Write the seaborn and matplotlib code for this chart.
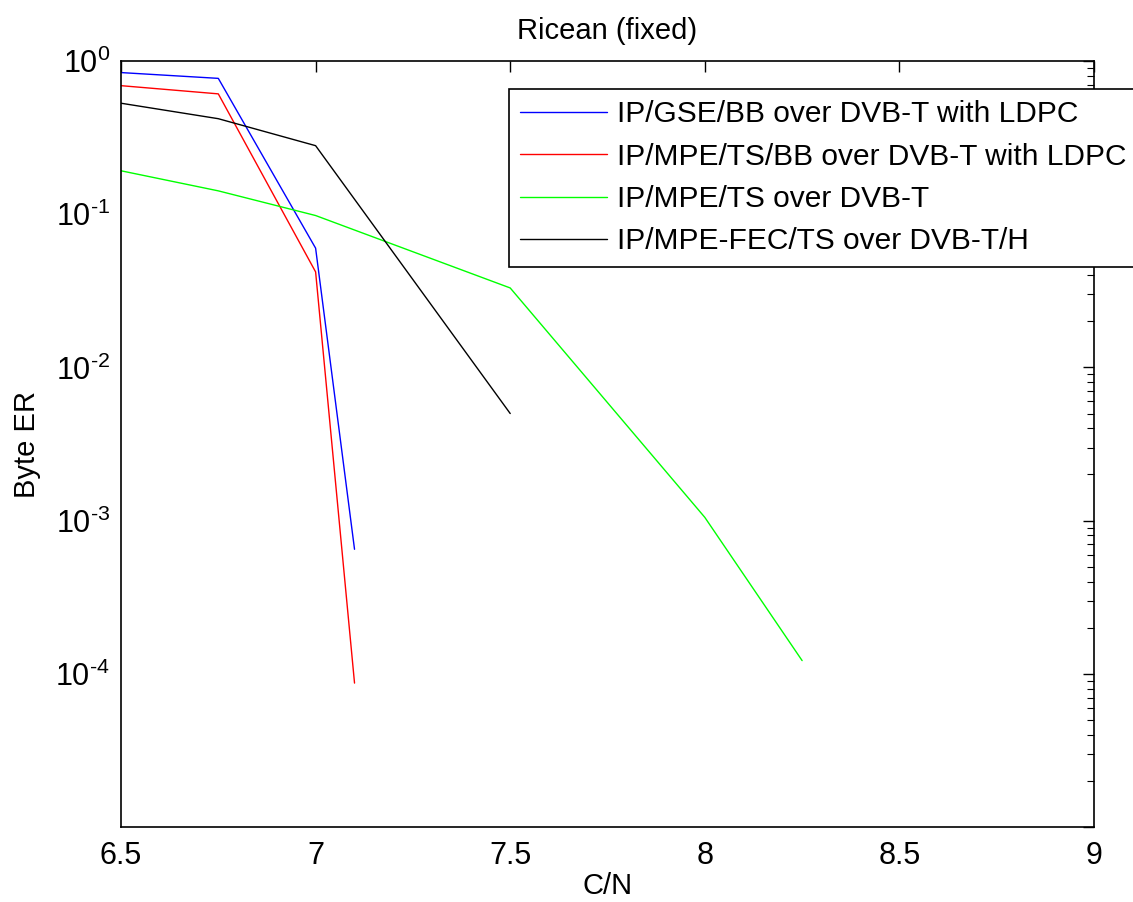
import numpy as np
import pandas as pd
import seaborn as sns
import matplotlib.pyplot as plt
from matplotlib.ticker import LogLocator, FuncFormatter, NullLocator, FixedLocator

# C/N points and byte error rates
cn_gse = [6.5, 6.75, 7.0, 7.1]
ber_gse = [0.84, 0.77, 0.06, 6.5e-4]

cn_mpe_bb = [6.5, 6.75, 7.0, 7.1]
ber_mpe_bb = [0.69, 0.61, 0.042, 8.7e-5]

cn_mpe = [6.5, 6.75, 7.0, 7.5, 8.0, 8.25]
ber_mpe = [0.192, 0.142, 0.098, 0.033, 1.05e-3, 1.22e-4]

cn_fec = [6.5, 6.75, 7.0, 7.5]
ber_fec = [0.53, 0.42, 0.28, 0.005]

labels = ['IP/GSE/BB over DVB-T with LDPC',
          'IP/MPE/TS/BB over DVB-T with LDPC',
          'IP/MPE/TS over DVB-T',
          'IP/MPE-FEC/TS over DVB-T/H']
colors = ['#0000ff', '#ff0000', '#00ff00', '#000000']

sns.set_style('white')
plt.rcParams['font.family'] = ['Liberation Sans', 'DejaVu Sans']
plt.rcParams['mathtext.fontset'] = 'custom'
plt.rcParams['mathtext.rm'] = 'Liberation Sans'
plt.rcParams['mathtext.it'] = 'Liberation Sans'
plt.rcParams['text.color'] = 'black'
plt.rcParams['axes.labelcolor'] = 'black'

fig = plt.figure(figsize=(11.33, 9.02), dpi=100)
ax = fig.add_axes([0.1068, 0.0831, 0.8588, 0.8493])

series = [(cn_gse, ber_gse), (cn_mpe_bb, ber_mpe_bb), (cn_mpe, ber_mpe), (cn_fec, ber_fec)]
for (x, y), lab, col in zip(series, labels, colors):
    df = pd.DataFrame({'C/N': x, 'Byte ER': y})
    sns.lineplot(data=df, x='C/N', y='Byte ER', color=col, label=lab,
                 linewidth=1.0, ax=ax, legend=False)

ax.set_yscale('log')
ax.set_xlim(6.5, 9)
ax.set_ylim(1e-5, 1)
ax.xaxis.set_major_locator(FixedLocator([6.5, 7, 7.5, 8, 8.5, 9]))
ax.xaxis.set_minor_locator(NullLocator())
ax.xaxis.set_major_formatter(FuncFormatter(lambda v, p: f'{v:g}'))
ax.yaxis.set_major_locator(LogLocator(base=10, numticks=10))
ax.yaxis.set_minor_locator(LogLocator(base=10, subs=np.arange(2, 10), numticks=20))


def ylab(v, p):
    e = int(round(np.log10(v)))
    if e == -5:
        return ''
    return r'$10^{\text{%d}}$' % e


ax.yaxis.set_major_formatter(FuncFormatter(ylab))

ax.tick_params(which='both', direction='in', top=True, right=True, colors='black',
               labelsize=22)
ax.tick_params(axis='x', which='major', length=8, width=1, pad=10)
ax.tick_params(axis='y', which='major', length=8, width=1, pad=8)
ax.tick_params(axis='y', which='minor', length=5, width=0.8)
for s in ax.spines.values():
    s.set_color('black')
    s.set_linewidth(1.2)

ax.set_xlabel('C/N', fontsize=21, labelpad=1)
ax.set_ylabel('Byte ER', fontsize=21, labelpad=10)
ax.set_title('Ricean (fixed)', fontsize=21, pad=16)

leg = ax.legend(loc='upper left', bbox_to_anchor=(509 / 1133, 1 - 89 / 902),
                bbox_transform=fig.transFigure, borderaxespad=0, fontsize=21.5,
                frameon=True, fancybox=False, edgecolor='black', framealpha=1,
                handlelength=2.9, handletextpad=0.35, labelspacing=0.48,
                borderpad=0.38)
leg.get_frame().set_linewidth(1.2)

plt.savefig('out.png', dpi=100)
